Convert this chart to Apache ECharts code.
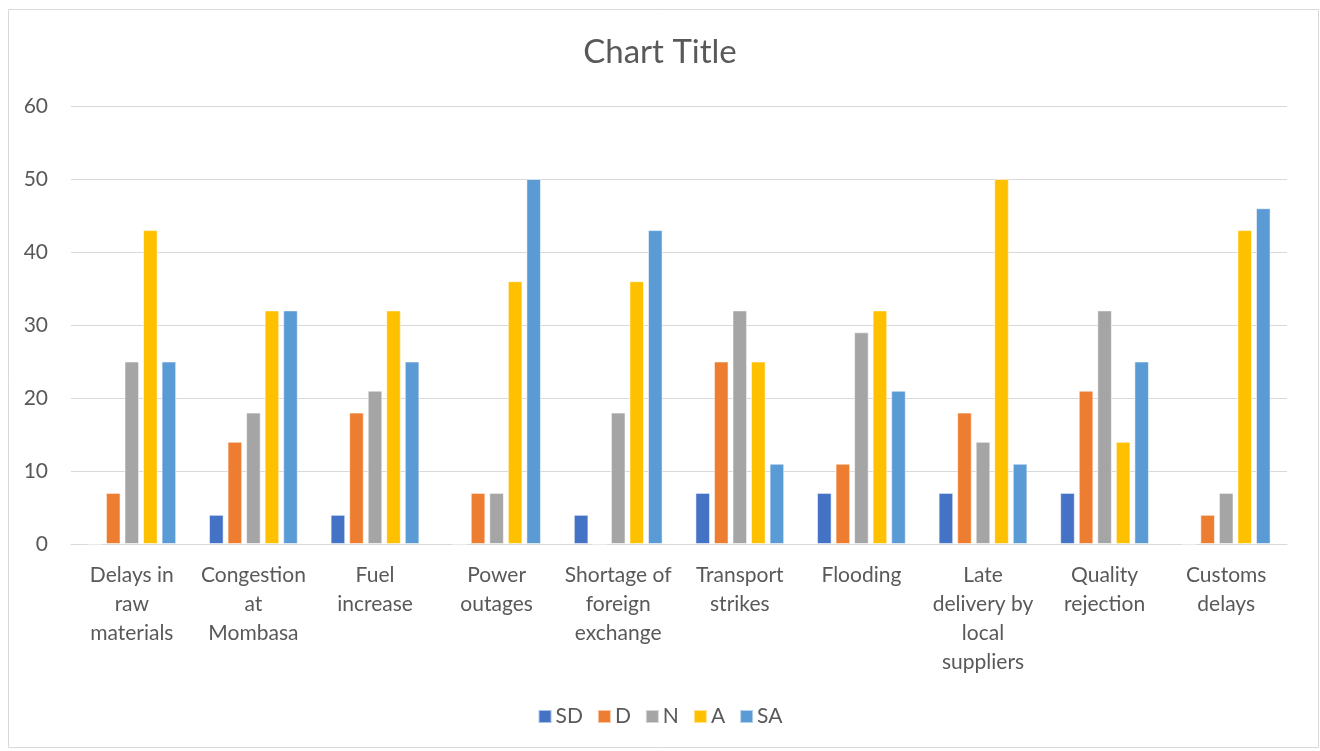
<!DOCTYPE html>
<html>
<head>
<meta charset="utf-8">
<title>Chart Title</title>
<script src="https://cdn.jsdelivr.net/npm/echarts@6/dist/echarts.min.js"></script>
<style>
  html, body { margin: 0; padding: 0; background: #ffffff; }
  #chart { width: 1320px; height: 751px; }
</style>
</head>
<body>
<div id="chart"></div>
<script>
// Categories (line breaks give the wrapped axis labels)
const categories = [
  "Delays in\nraw\nmaterials",
  "Congestion\nat\nMombasa",
  "Fuel\nincrease",
  "Power\noutages",
  "Shortage of\nforeign\nexchange",
  "Transport\nstrikes",
  "Flooding",
  "Late\ndelivery by\nlocal\nsuppliers",
  "Quality\nrejection",
  "Customs\ndelays"
];

// Response shares per category
const SD = [0, 4, 4, 0, 4, 7, 7, 7, 7, 0];
const D  = [7, 14, 18, 7, 0, 25, 11, 18, 21, 4];
const N  = [25, 18, 21, 7, 18, 32, 29, 14, 32, 7];
const A  = [43, 32, 32, 36, 36, 25, 32, 50, 14, 43];
const SA = [25, 32, 25, 50, 43, 11, 21, 11, 25, 46];

const seriesNames = ["SD", "D", "N", "A", "SA"];
const seriesData = [SD, D, N, A, SA];
const colors = ["#4472C4", "#ED7D31", "#A5A5A5", "#FFC000", "#5B9BD5"];

const yTicks = { min: 0, max: 60, interval: 10 };

const textColor = "#595959";
const fontFamily = "Lato, 'Open Sans', sans-serif";

const chart = echarts.init(document.getElementById("chart"), null, { renderer: "canvas" });

chart.setOption({
  animation: false,
  backgroundColor: "#ffffff",
  color: colors,
  textStyle: { fontFamily: fontFamily },
  title: {
    text: "Chart Title",
    left: "center",
    top: 31,
    textStyle: { color: textColor, fontSize: 33, fontWeight: "normal", fontFamily: fontFamily }
  },
  legend: {
    bottom: 19,
    left: "center",
    itemWidth: 13,
    itemHeight: 13,
    itemGap: 14,
    icon: "rect",
    textStyle: { color: textColor, fontSize: 21, padding: [0, 0, 0, -1] },
    data: seriesNames
  },
  grid: { left: 71, right: 33, top: 106, bottom: 207, containLabel: false },
  xAxis: {
    type: "category",
    data: categories,
    axisLine: { show: true, lineStyle: { color: "#d9d9d9", width: 1 } },
    axisTick: { show: false },
    axisLabel: {
      color: textColor,
      fontSize: 21,
      lineHeight: 29,
      margin: 17,
      interval: 0,
      align: "center"
    }
  },
  yAxis: {
    type: "value",
    min: yTicks.min,
    max: yTicks.max,
    interval: yTicks.interval,
    axisLine: { show: false },
    axisTick: { show: false },
    splitLine: { lineStyle: { color: "#d9d9d9", width: 1 } },
    axisLabel: { color: textColor, fontSize: 21, margin: 23 }
  },
  series: seriesNames.map((name, i) => ({
    name: name,
    type: "bar",
    data: seriesData[i],
    barGap: "27%",
    barCategoryGap: "27%",
    itemStyle: { color: colors[i], borderColor: "rgba(255,255,255,0.55)", borderWidth: 1 }
  })),
  graphic: [{
    type: "rect",
    left: 6,
    top: 7,
    shape: { x: 0, y: 0, width: 1310, height: 738 },
    style: { fill: "none", stroke: "#d9d9d9", lineWidth: 1 },
    silent: true
  }]
});
</script>
</body>
</html>
